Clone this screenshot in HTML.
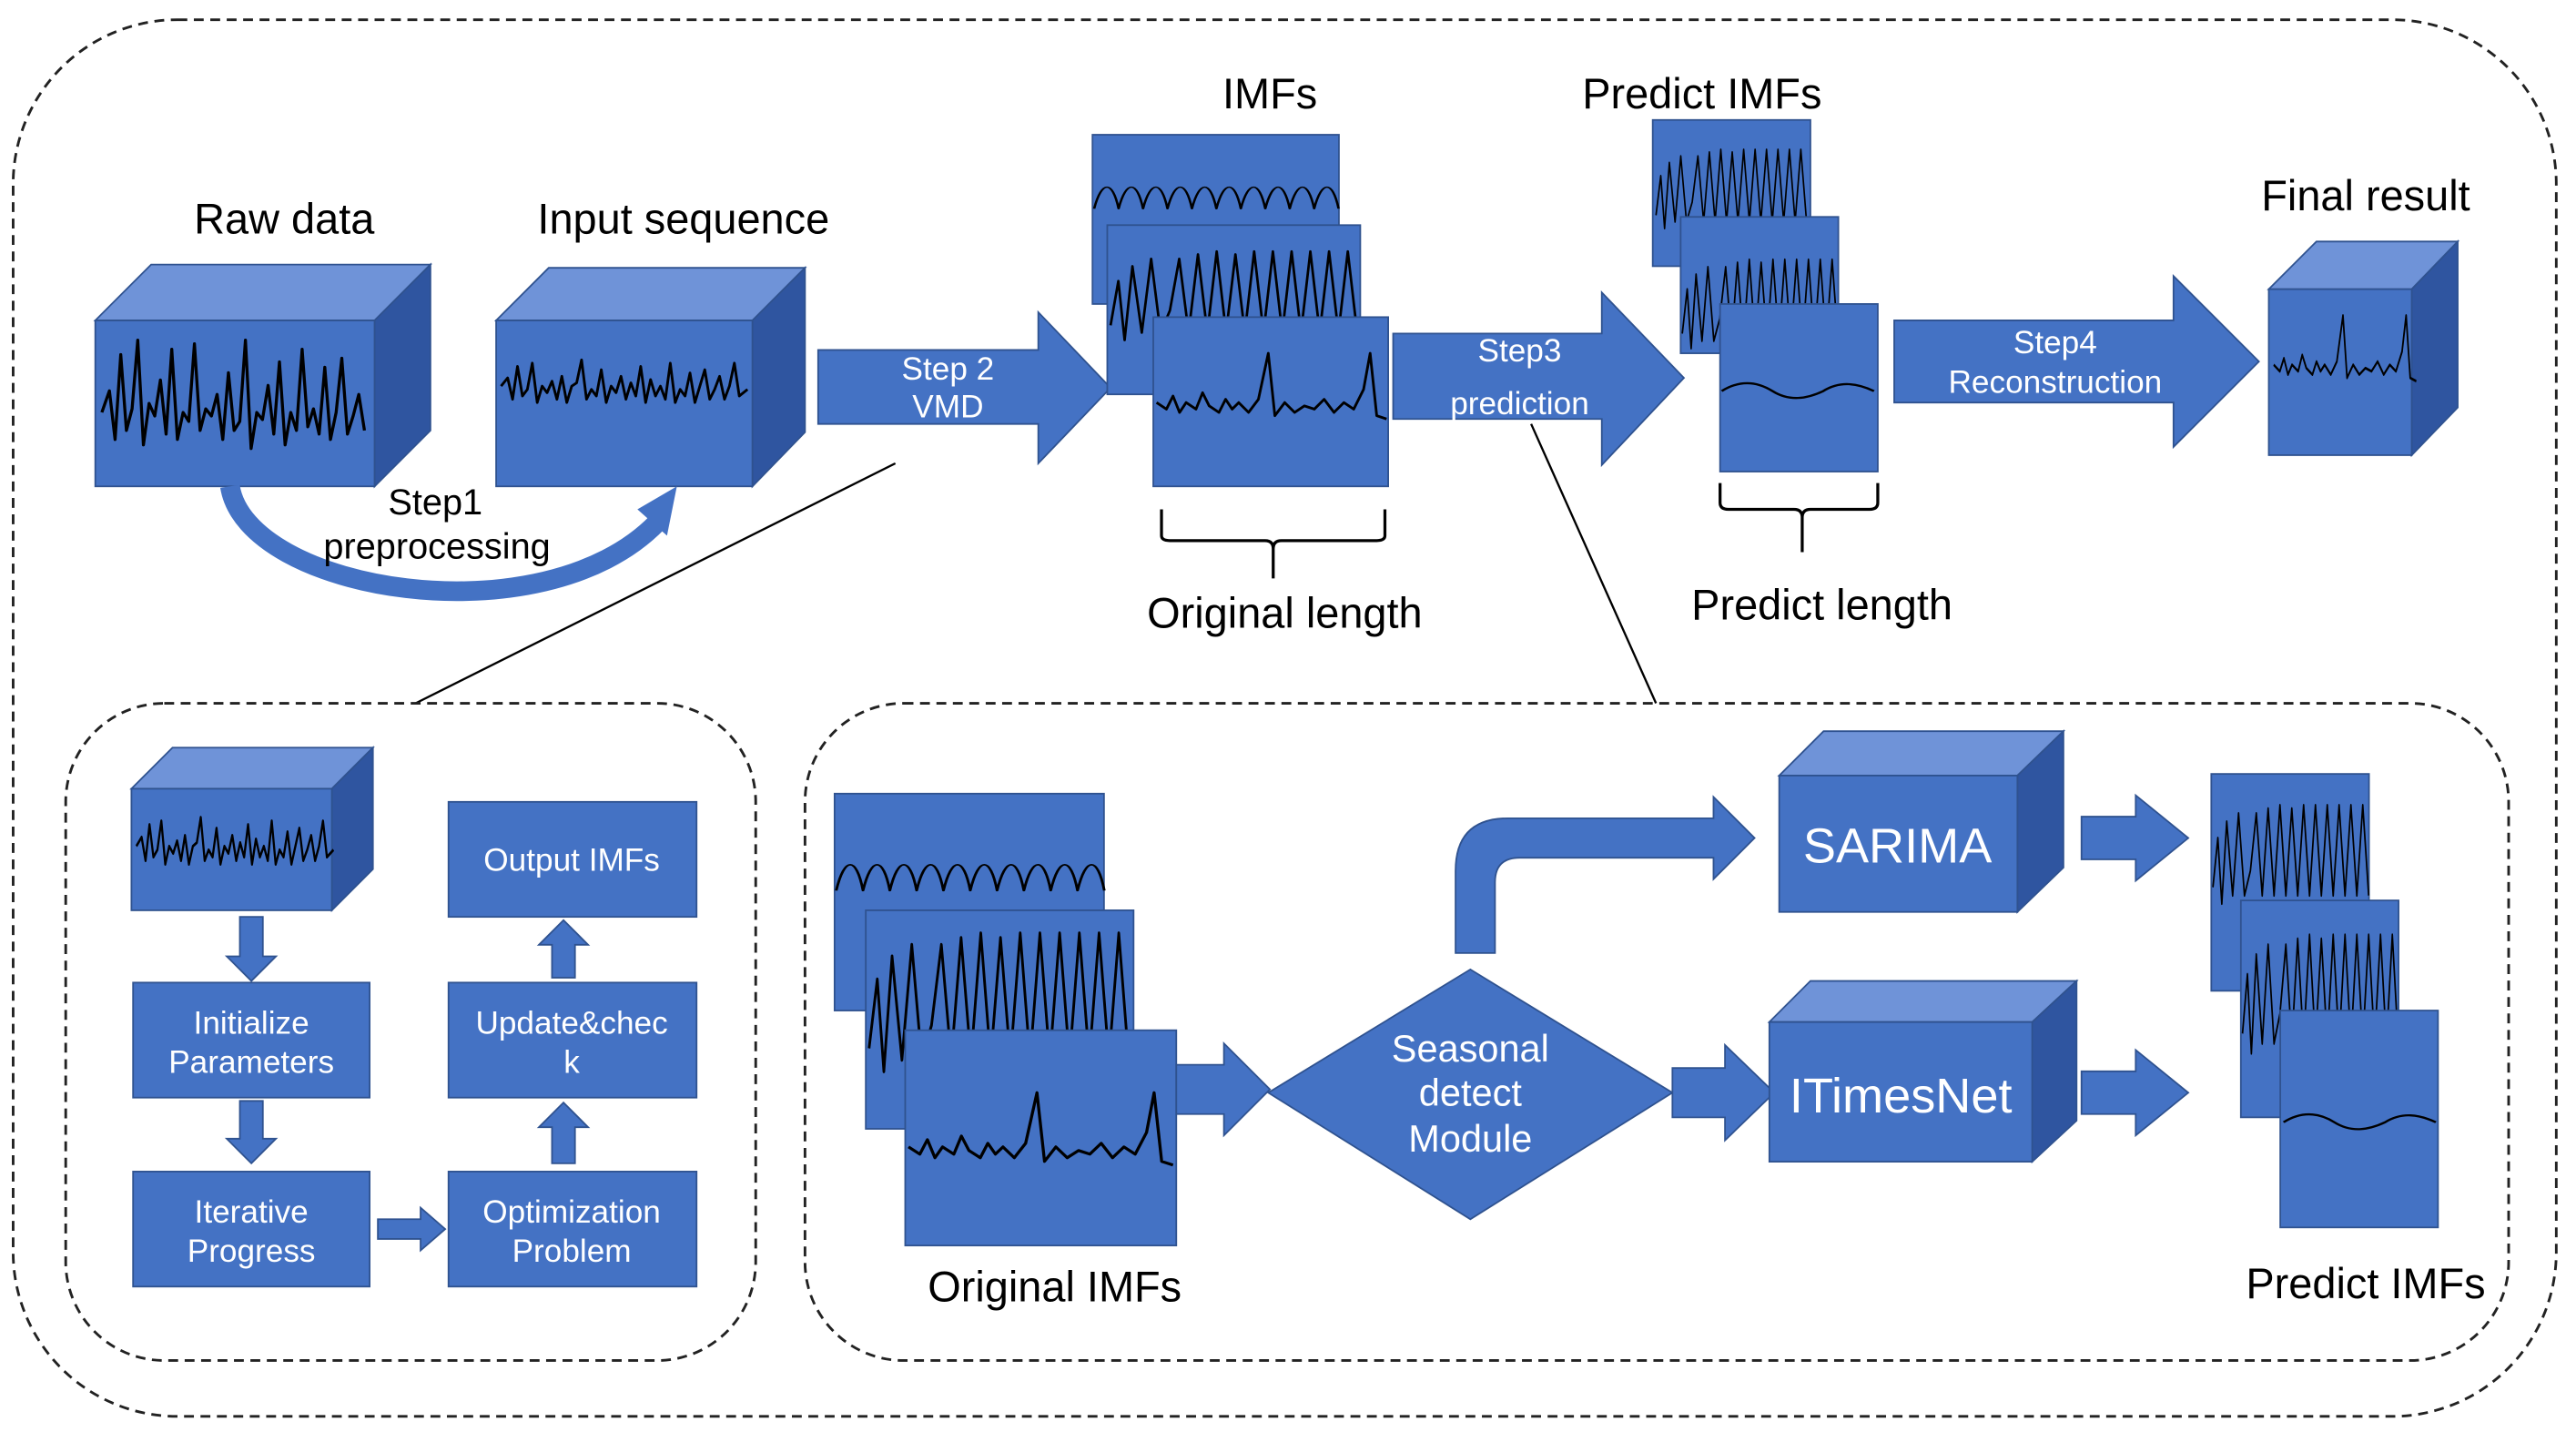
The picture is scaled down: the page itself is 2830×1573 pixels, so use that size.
<!DOCTYPE html>
<html><head><meta charset="utf-8"><style>
html,body{margin:0;padding:0;background:#fff}
svg{display:block}
text{font-family:"Liberation Sans",Arial,sans-serif}
.lbl{font-size:26px;fill:#000;text-anchor:middle}
.wt{font-size:19.5px;fill:#fff;text-anchor:middle}
.f{fill:#4472C4;stroke:#2F528F;stroke-width:1}
.t{fill:#6F93D8;stroke:#2F528F;stroke-width:1}
.s{fill:#2F55A0;stroke:#2F528F;stroke-width:1}
.w{fill:none;stroke:#000;stroke-width:1.6;stroke-linejoin:round}
.d{fill:none;stroke:#222;stroke-width:1.6;stroke-dasharray:6 4}
</style></head><body>
<svg width="2830" height="1573" viewBox="0 0 1568 871.5" preserveAspectRatio="none" xmlns="http://www.w3.org/2000/svg">
<defs>
<path id="sp" class="w" d="M0,10 L4,-2 7,25 10,-22 13,20 16,8 19,-30 22,28 25,5 28,12 31,-8 34,22 37,-25 40,25 43,10 46,15 49,-28 52,20 55,8 58,12 61,0 64,25 67,-12 70,20 73,15 76,-30 79,30 82,10 85,14 88,-5 91,22 94,-18 97,28 100,10 103,20 106,-25 109,18 112,8 115,22 118,-15 121,25 124,10 127,-20 130,22 133,12 136,0 139,20"/>
<path id="sm" class="w" d="M0,0 L4,-5 7,8 10,-12 13,6 16,2 19,-14 22,10 25,0 28,4 31,-3 34,8 37,-6 40,10 43,0 46,-2 49,-16 52,8 55,2 58,6 61,-10 64,10 67,0 70,4 73,-6 76,8 79,-2 82,6 85,-12 88,10 91,-4 94,6 97,0 100,8 103,-14 106,10 109,2 112,6 115,-8 118,10 121,0 124,-10 127,8 130,2 133,-6 136,8 139,0 142,-14 145,6 150,2"/>
<path id="per" class="w" d="M0,20 C5,-15 12,-15 16,20 C21,-15 28,-15 32,20 C37,-15 44,-15 48,20 C53,-15 60,-15 64,20 C69,-15 76,-15 80,20 C85,-15 92,-15 96,20 C101,-15 108,-15 112,20 C117,-15 124,-15 128,20 C133,-15 140,-15 144,20 C149,-15 156,-15 160,20"/>
<path id="hf" class="w" d="M0,20 L5,-10 9,30 14,-20 20,25 26,-25 32,25 38,10 44,-25 50,25 56,-28 62,25 68,-30 74,25 80,-28 86,25 92,-30 98,25 104,-30 110,25 116,-30 122,25 128,-30 134,25 140,-30 146,25 152,-30 158,25"/>
<path id="lf" class="w" d="M0,0 L6,4 10,-4 14,6 18,0 24,4 28,-6 32,2 38,6 42,-2 46,4 50,0 56,6 62,-2 68,-30 72,8 78,0 84,6 90,2 96,4 102,-2 108,6 114,0 120,4 126,-8 130,-30 134,8 140,10"/>
<path id="ln" class="w" d="M0,0 C10,-8 20,-8 30,0 C40,8 50,6 60,0 C70,-8 80,-6 90,0"/>
</defs>

<rect x="8" y="12" width="1548" height="850" rx="100" class="d"/>

<polygon class="t" points="58,195 92,161 262,161 228,195"/>
<polygon class="s" points="228,195 262,161 262,262 228,296"/>
<rect class="f" x="58" y="195" width="170" height="101"/>
<use href="#sp" transform="translate(62,240) scale(1.15,1.1)"/>
<text class="lbl" x="173" y="142">Raw data</text>

<polygon class="t" points="302,195 334,163 490,163 458,195"/>
<polygon class="s" points="458,195 490,163 490,263 458,296"/>
<rect class="f" x="302" y="195" width="156" height="101"/>
<use href="#sm" transform="translate(305,235)"/>
<text class="lbl" x="416" y="142">Input sequence</text>

<path d="M140,296 C150,360 330,390 400,318" fill="none" stroke="#4472C4" stroke-width="12"/>
<polygon points="388,310 412,296 406,326" fill="#4472C4"/>
<text class="lbl" x="265" y="313" style="font-size:22px">Step1</text>
<text class="lbl" x="266" y="340" style="font-size:22px">preprocessing</text>

<polygon class="f" points="498,213 632,213 632,190 676,236 632,282 632,258 498,258"/>
<text class="wt" x="577" y="231">Step 2</text>
<text class="wt" x="577" y="254">VMD</text>

<rect class="f" x="665" y="82" width="150" height="103"/>
<use href="#per" transform="translate(666,117) scale(0.93,0.5)"/>
<rect class="f" x="674" y="137" width="154" height="103"/>
<use href="#hf" transform="translate(676,180) scale(0.95,0.9)"/>
<rect class="f" x="702" y="193" width="143" height="103"/>
<use href="#lf" transform="translate(704,245)"/>
<text class="lbl" x="773" y="66">IMFs</text>
<path d="M707,310 V326 Q707,329 712,329 H770 Q775,329 775,334 V352 M775,334 Q775,329 780,329 H838 Q843,329 843,326 V310" fill="none" stroke="#000" stroke-width="1.8"/>
<text class="lbl" x="782" y="382">Original length</text>

<polygon class="f" points="848,203 975,203 975,178 1025,230 975,283 975,255 848,255"/>
<text class="wt" x="925" y="220">Step3</text>
<text class="wt" x="925" y="252">prediction</text>

<rect class="f" x="1006" y="73" width="96" height="89"/>
<use href="#hf" transform="translate(1008,115) scale(0.58,0.8)"/>
<rect class="f" x="1023" y="132" width="96" height="83"/>
<use href="#hf" transform="translate(1024,185) scale(0.6,0.9)"/>
<rect class="f" x="1047" y="185" width="96" height="102"/>
<use href="#ln" transform="translate(1048,238) scale(1.03,0.8)"/>
<text class="lbl" x="1036" y="66">Predict IMFs</text>
<path d="M1047,294 V306 Q1047,310 1052,310 H1092 Q1097,310 1097,315 V336 M1097,315 Q1097,310 1102,310 H1138 Q1143,310 1143,306 V294" fill="none" stroke="#000" stroke-width="1.8"/>
<text class="lbl" x="1109" y="377">Predict length</text>

<polygon class="f" points="1153,195 1323,195 1323,168 1375,220 1323,272 1323,245 1153,245"/>
<text class="wt" x="1251" y="215">Step4</text>
<text class="wt" x="1251" y="239">Reconstruction</text>

<polygon class="t" points="1381,176 1410,147 1496,147 1468,176"/>
<polygon class="s" points="1468,176 1496,147 1496,248 1468,277"/>
<rect class="f" x="1381" y="176" width="87" height="101"/>
<use href="#lf" transform="translate(1384,222) scale(0.62,1)"/>
<text class="lbl" x="1440" y="128">Final result</text>

<line x1="545" y1="282" x2="253" y2="428" stroke="#000" stroke-width="1.3"/>
<line x1="932" y1="258" x2="1008" y2="428" stroke="#000" stroke-width="1.3"/>

<rect x="40" y="428" width="420" height="400" rx="60" class="d"/>
<polygon class="t" points="80,480 105,455 227,455 202,480"/>
<polygon class="s" points="202,480 227,455 227,529 202,554"/>
<rect class="f" x="80" y="480" width="122" height="74"/>
<use href="#sm" transform="translate(83,515) scale(0.8,1.1)"/>
<rect class="f" x="81" y="598" width="144" height="70"/>
<text class="wt" x="153" y="629">Initialize</text><text class="wt" x="153" y="653">Parameters</text>
<rect class="f" x="81" y="713" width="144" height="70"/>
<text class="wt" x="153" y="744">Iterative</text><text class="wt" x="153" y="768">Progress</text>
<rect class="f" x="273" y="713" width="151" height="70"/>
<text class="wt" x="348" y="744">Optimization</text><text class="wt" x="348" y="768">Problem</text>
<rect class="f" x="273" y="598" width="151" height="70"/>
<text class="wt" x="348" y="629">Update&amp;chec</text><text class="wt" x="348" y="653">k</text>
<rect class="f" x="273" y="488" width="151" height="70"/>
<text class="wt" x="348" y="530">Output IMFs</text>
<polygon class="f" points="146,558 160,558 160,582 168,582 153,597 138,582 146,582"/>
<polygon class="f" points="146,670 160,670 160,693 168,693 153,708 138,693 146,693"/>
<polygon class="f" points="230,742 256,742 256,735 271,748 256,761 256,754 230,754"/>
<polygon class="f" points="336,708 350,708 350,686 358,686 343,671 328,686 336,686"/>
<polygon class="f" points="336,595 350,595 350,575 358,575 343,560 328,575 336,575"/>

<rect x="490" y="428" width="1037" height="400" rx="60" class="d"/>
<rect class="f" x="508" y="483" width="164" height="132"/>
<use href="#per" transform="translate(509,530) scale(1.02,0.6)"/>
<rect class="f" x="527" y="554" width="163" height="133"/>
<use href="#hf" transform="translate(529,610) scale(1.0,1.4)"/>
<rect class="f" x="551" y="627" width="165" height="131"/>
<use href="#lf" transform="translate(553,698) scale(1.15,1.1)"/>
<text class="lbl" x="642" y="792">Original IMFs</text>
<polygon class="f" points="716,648 745,648 745,635 773,663 745,691 745,678 716,678"/>
<polygon class="f" points="772,665 895,590 1018,665 895,742"/>
<text class="wt" x="895" y="646" style="font-size:23px">Seasonal</text>
<text class="wt" x="895" y="673" style="font-size:23px">detect</text>
<text class="wt" x="895" y="701" style="font-size:23px">Module</text>
<polygon class="f" points="1018,650 1050,650 1050,636 1080,665 1050,694 1050,680 1018,680"/>
<polygon class="t" points="1077,622 1102,597 1264,597 1237,622"/>
<polygon class="s" points="1237,622 1264,597 1264,682 1237,707"/>
<rect class="f" x="1077" y="622" width="160" height="85"/>
<text class="wt" x="1157" y="677" style="font-size:30px">ITimesNet</text>
<polygon class="t" points="1083,472 1110,445 1256,445 1228,472"/>
<polygon class="s" points="1228,472 1256,445 1256,528 1228,555"/>
<rect class="f" x="1083" y="472" width="145" height="83"/>
<text class="wt" x="1155" y="525" style="font-size:30px">SARIMA</text>
<path class="f" d="M886,580 V530 Q886,498 918,498 H1043 V485 L1068,510 L1043,535 V522 H925 Q910,522 910,537 V580 Z"/>
<polygon class="f" points="1267,497 1300,497 1300,484 1332,510 1300,536 1300,523 1267,523"/>
<polygon class="f" points="1267,652 1300,652 1300,639 1332,665 1300,691 1300,678 1267,678"/>
<rect class="f" x="1346" y="471" width="96" height="132"/>
<use href="#hf" transform="translate(1347,520) scale(0.6,1)"/>
<rect class="f" x="1364" y="548" width="96" height="132"/>
<use href="#hf" transform="translate(1365,605) scale(0.6,1.2)"/>
<rect class="f" x="1388" y="615" width="96" height="132"/>
<use href="#ln" transform="translate(1390,683) scale(1.03,0.8)"/>
<text class="lbl" x="1440" y="790">Predict IMFs</text>
</svg>
</body></html>
